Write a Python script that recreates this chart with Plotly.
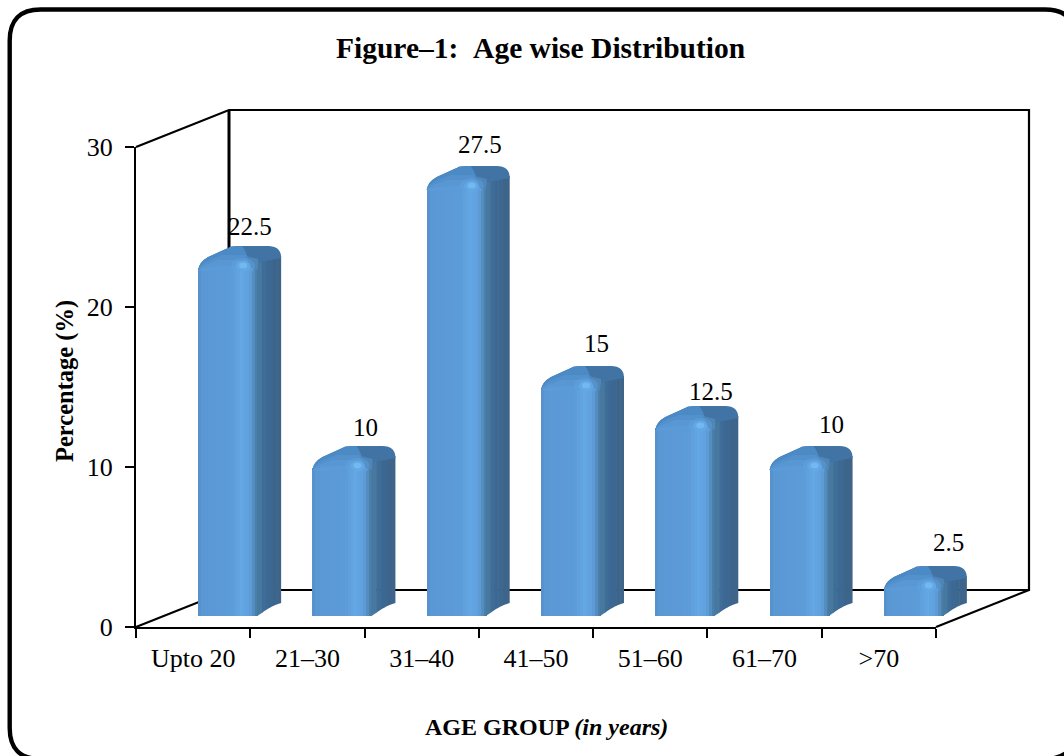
import plotly.graph_objects as go

categories = ["Upto 20", "21–30", "31–40", "41–50", "51–60", "61–70", ">70"]
values = [22.5, 10, 27.5, 15, 12.5, 10, 2.5]
y_ticks = [0, 10, 20, 30]
title_text = "<b>Figure–1:\u00a0\u00a0Age wise Distribution</b>"
x_title = "<b>AGE GROUP <i>(in years)</i></b>"
y_title = "<b>Percentage (%)</b>"

W, H = 1064, 756
FONT = "Liberation Serif"
PX_X = 800 / 7          # pixels per category
PX_Y = 16.0             # pixels per percentage point
BAR_PX = 60
BEVEL = 12
n = len(categories)

def px(x): return x / W
def py(y): return 1 - y / H
def xd(i, dx): return i - BAR_PX / 2 / PX_X + dx / PX_X
def yd(v, dy): return v - dy / PX_Y

def hexmix(a, b, t):
    ca = [int(a[k:k+2], 16) for k in (1, 3, 5)]
    cb = [int(b[k:k+2], 16) for k in (1, 3, 5)]
    return "#" + "".join(f"{round(p + (q - p) * t):02x}" for p, q in zip(ca, cb))

def front_color(t):
    stops = [(0, "#5590cb"), (.08, "#5a98d4"), (.55, "#5b9bd7"), (.72, "#63a7e5"), (.86, "#5f9fdb"), (1, "#47789f")]
    for (t0, c0), (t1, c1) in zip(stops, stops[1:]):
        if t <= t1:
            return hexmix(c0, c1, (t - t0) / (t1 - t0))
    return stops[-1][1]

fig = go.Figure()

# invisible carrier for the main axes
fig.add_trace(go.Scatter(x=[0, n - 1], y=[0, 0], mode="markers", marker=dict(opacity=0),
                         showlegend=False, hoverinfo="skip"))
# front faces, as vertical strips of a horizontal gradient
STRIPS = 20
strip = BAR_PX / STRIPS / PX_X
for k in range(STRIPS):
    fig.add_trace(go.Bar(
        x=list(range(n)), y=values, base=-BEVEL / PX_Y,
        width=strip * 1.4 if k < STRIPS - 1 else strip,
        offset=-BAR_PX / 2 / PX_X + k * strip,
        marker=dict(color=front_color((k + .5) / STRIPS), line=dict(width=0)),
        xaxis="x2", yaxis="y2", showlegend=False, hoverinfo="skip",
    ))

shapes = []

def frame(path, width=2.2):
    shapes.append(dict(type="path", xref="paper", yref="paper", path=path, layer="below",
                       line=dict(color="black", width=width)))

def P(x, y): return f"{px(x)},{py(y)}"

# outer rounded border (its right and bottom runs fall just outside the picture)
r = 31
L, T, R, B = 9.7, 9.5, 1076, 759
shapes.append(dict(type="path", xref="paper", yref="paper", layer="below",
    path=f"M{P(L+r,T)} L{P(R-r,T)} Q{P(R,T)} {P(R,T+r)} L{P(R,B-r)} Q{P(R,B)} {P(R-r,B)} "
         f"L{P(L+r,B)} Q{P(L,B)} {P(L,B-r)} L{P(L,T+r)} Q{P(L,T)} {P(L+r,T)} Z",
    line=dict(color="black", width=4.4)))

# 3-D walls
frame(f"M{P(136,147)} L{P(229,110)} L{P(1029,110)} L{P(1029,590)} L{P(229,590)} L{P(136,627)}")
frame(f"M{P(229,110)} L{P(229,590)}", 3)
frame(f"M{P(936,627)} L{P(1029,590)}")

def poly(i, v, pts, color, opacity=1):
    d = ""
    for seg in pts:
        cmd = seg[0]
        coords = " ".join(f"{xd(i, a)},{yd(v, b)}" for a, b in seg[1:])
        d += f"{cmd}{coords} "
    shapes.append(dict(type="path", xref="x2", yref="y2", path=d + "Z", layer="above",
                       fillcolor=color, opacity=opacity, line=dict(width=0)))

def blob(i, v, cx, cy, rx, ry, color, opacity):
    shapes.append(dict(type="circle", xref="x2", yref="y2", layer="above",
                       x0=xd(i, cx - rx), x1=xd(i, cx + rx), y0=yd(v, cy + ry), y1=yd(v, cy - ry),
                       fillcolor=color, opacity=opacity, line=dict(width=0)))

side_cols = ["#47789f", "#3f6d98", "#3b6894", "#3c678f", "#3d658c", "#3e6489"]
for i, v in enumerate(values):
    h = v * PX_Y
    # side face, strip by strip
    m = len(side_cols)
    for k, c in enumerate(side_cols):
        a0 = 60 + 23 * k / m - (1 if k == 0 else 0)
        a1 = 60 + 23 * (k + 1) / m + (0.6 if k < m - 1 else 0)
        a1 = min(a1, 83)
        def bot(a):
            t = max(min((a - 60) / 23, 1), 0)
            return h - 13 * t * (2 - t) * 0.55 - 13 * t * 0.45
        def top(a):
            return 3 - 3 * (a - 60) / 23
        poly(i, v, [("M", (a0, bot(a0))), ("L", (a1, bot(a1))), ("L", (a1, top(a1))), ("L", (a0, top(a0)))], c)
    # whole top silhouette (dark right-hand part)
    poly(i, v, [("M", (0, 14)), ("Q", (1, 6), (10, 1)), ("L", (31, -8.5)), ("Q", (33, -10), (40, -10)),
                ("L", (70, -10)), ("Q", (83, -10), (83, 2)), ("L", (60, 6.5)), ("L", (58, 14)), ("L", (0, 14))], "#4173a4")
    # transition at the right-hand shoulder
    poly(i, v, [("M", (40, -2)), ("L", (60, 3)), ("L", (60, 7)), ("L", (59, 14)), ("L", (40, 14))], "#4f86b8")
    # lit left-hand part of the top
    poly(i, v, [("M", (0, 14)), ("Q", (1, 6), (10, 1)), ("L", (31, -8.5)), ("Q", (33, -10), (40, -10)),
                ("L", (44, -10)), ("Q", (50, -3), (52, 14)), ("L", (0, 14))], "#4c8ac6")
    poly(i, v, [("M", (0, 14)), ("Q", (2, 8), (11, 4)), ("L", (24, -1)), ("L", (47, -1)), ("L", (53, 14)), ("L", (0, 14))], "#5391cc")
    poly(i, v, [("M", (0, 14)), ("Q", (3, 10), (12, 7)), ("L", (20, 4)), ("L", (49, 4)), ("L", (54, 14)), ("L", (0, 14))], "#5897d3")
    poly(i, v, [("M", (0, 14.5)), ("Q", (4, 12), (12, 11)), ("L", (50, 9)), ("L", (56, 14.5)), ("L", (0, 14.5))], "#5b9cd8")
    # specular spot
    blob(i, v, 45, 10, 12, 8, "#62a6e4", 0.4)
    blob(i, v, 45, 10, 7.5, 5.5, "#6aafec", 0.5)
    blob(i, v, 45, 9.5, 4, 3, "#7ac0f6", 0.7)

annotations = []
label_dx = [22, 23, 23, 25, 26, 32, 35]
label_dy = [30, 29, 32, 33, 25, 32, 34]
for i, v in enumerate(values):
    annotations.append(dict(x=i, y=v, xref="x2", yref="y2", text=str(v), showarrow=False,
                            xshift=label_dx[i], yshift=label_dy[i],
                            font=dict(family=FONT, size=25, color="black")))
annotations.append(dict(x=px(540), y=py(48), xref="paper", yref="paper", text=title_text, showarrow=False,
                        xanchor="center", yanchor="middle", font=dict(family=FONT, size=29.5, color="black")))
annotations.append(dict(x=px(546), y=py(727), xref="paper", yref="paper", text=x_title, showarrow=False,
                        xanchor="center", yanchor="middle", font=dict(family=FONT, size=24, color="black")))
annotations.append(dict(x=px(65), y=py(381), xref="paper", yref="paper", text=y_title, showarrow=False,
                        xanchor="center", yanchor="middle",
                        textangle=-90, font=dict(family=FONT, size=24.5, color="black")))

fig.update_layout(
    width=W, height=H, margin=dict(l=0, r=0, t=0, b=0, pad=0, autoexpand=False),
    paper_bgcolor="white", plot_bgcolor="rgba(0,0,0,0)", barmode="overlay", bargap=0,
    showlegend=False, shapes=shapes, annotations=annotations,
    xaxis=dict(domain=[px(136), px(936)], range=[-.5, n - .5], tickmode="array",
               tickvals=list(range(n)), ticktext=categories, ticks="", showgrid=False, zeroline=False,
               showline=True, linecolor="black", linewidth=2.2, ticklabelstandoff=7,
               tickfont=dict(family=FONT, size=26, color="black"),
               minor=dict(tickmode="array", tickvals=[k - .5 for k in range(n + 1)], ticks="outside",
                          ticklen=9, tickwidth=2.2, tickcolor="black", showgrid=False)),
    yaxis=dict(domain=[py(627), py(147)], range=[0, 30], tickmode="array", tickvals=y_ticks,
               ticks="outside", ticklen=9, tickwidth=2.2, tickcolor="black", showgrid=False, zeroline=False,
               showline=True, linecolor="black", linewidth=2.2, ticklabelstandoff=7,
               tickfont=dict(family=FONT, size=26, color="black")),
    xaxis2=dict(domain=[px(136 + 35), 1], range=[-.5, -.5 + (W - 171) / PX_X],
                visible=False, anchor="y2"),
    yaxis2=dict(domain=[py(616), 1], range=[0, 616 / PX_Y], visible=False, anchor="x2"),
)

fig.write_html("out.html", post_script="document.body.style.margin='0';document.body.style.overflow='hidden';",
               config=dict(displayModeBar=False))
